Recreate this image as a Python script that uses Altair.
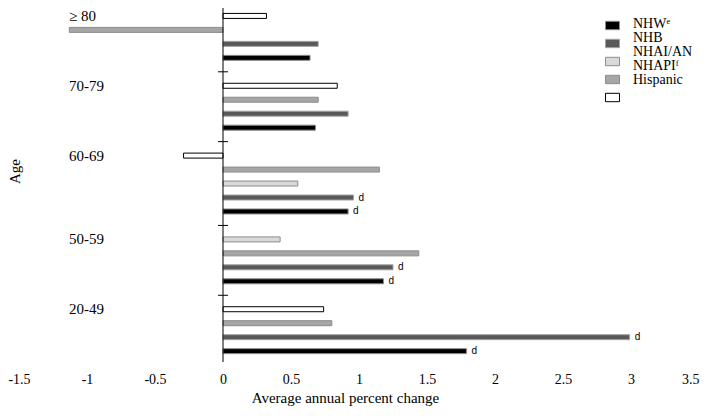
import altair as alt
import pandas as pd

# ---- data ----
ages = ["≥ 80", "70-79", "60-69", "50-59", "20-49"]
series = ["NHW", "NHB", "NHAI/AN", "NHAPI", "Hispanic"]
legend_labels = ["NHWᵉ", "NHB", "NHAI/AN", "NHAPIᶠ", "Hispanic"]
nhw = [0.64, 0.68, 0.92, 1.18, 1.79]
nhb = [0.70, 0.92, 0.96, 1.25, 2.99]
nhaian = [None, None, 0.55, 0.42, None]
nhapi = [-1.13, 0.70, 1.15, 1.44, 0.80]
hispanic = [0.32, 0.84, -0.29, None, 0.74]
nhw_sig = [False, False, True, True, True]
nhb_sig = [False, False, True, True, True]
no_sig = [False] * 5
x_ticks = [-1.5, -1, -0.5, 0, 0.5, 1, 1.5, 2, 2.5, 3, 3.5]

values = {"NHW": nhw, "NHB": nhb, "NHAI/AN": nhaian, "NHAPI": nhapi, "Hispanic": hispanic}
sigs = {"NHW": nhw_sig, "NHB": nhb_sig, "NHAI/AN": no_sig, "NHAPI": no_sig, "Hispanic": no_sig}
label_of = dict(zip(series, legend_labels))

# top-to-bottom order of bars inside each age group
default_order = ["Hispanic", "NHAPI", "NHAI/AN", "NHB", "NHW"]
group_order = {"50-59": ["NHAI/AN", "NHAPI", "NHB", "NHW"]}

fills = ["#000000", "#595959", "#d9d9d9", "#a6a6a6", "#ffffff"]
strokes = ["#8c8c8c", "#a3a3a3", "#8c8c8c", "#8c8c8c", "#000000"]

# ---- build row table (row index = slot in the category axis) ----
rows, labels, bounds = [], [], []
u = 0
for gi, age in enumerate(ages):
    order = group_order.get(age, default_order)
    present = [s for s in order if values[s][gi] is not None]
    for k, s in enumerate(present, 1):
        rows.append({"age": age, "series": s, "lab": label_of[s], "value": values[s][gi],
                     "pos": u + k, "sig": "d" if sigs[s][gi] else ""})
    labels.append({"age": age, "pos": u + 1})
    u += len(present) + 1
    bounds.append({"b": u})
bounds = bounds[:-1]

df = pd.DataFrame(rows)
lab_df = pd.DataFrame(labels)
b_df = pd.DataFrame(bounds)

W, H = 680, 354
xscale = alt.Scale(domain=[-1.5, 3.5], nice=False, zero=False)
yscale = alt.Scale(domain=[0.79, 25.42], reverse=True, nice=False, zero=False)

sym = "M-1,-0.6H1V0.6H-1Z"
sym_legend = alt.Legend(orient="none", legendX=586, legendY=10, title=None,
                        labelExpr="''", symbolType=sym, symbolSize=196,
                        rowPadding=4, padding=0, symbolStrokeWidth=1,
                        labelFontSize=1, labelOffset=0)

bars = alt.Chart(df).mark_bar(orient="horizontal", size=5, strokeWidth=1).encode(
    x=alt.X("value:Q", scale=xscale, stack=None,
            axis=alt.Axis(values=x_ticks, grid=False, domain=False, ticks=False,
                          labelPadding=10, labelFontSize=14, labelFont="Liberation Serif",
                          labelColor="black",
                          labelAlign={"condition": {"test": "datum.value >= 3.5", "value": "right"},
                                      "value": "center"},
                          labelExpr="datum.value < 0 ? '-' + format(-datum.value, '') : format(datum.value, '')",
                          title="Average annual percent change", titleFont="Liberation Serif",
                          titleFontSize=15, titleFontWeight="normal", titleColor="black",
                          titleX=326, titleY=35, titleBaseline="middle")),
    y=alt.Y("pos:Q", scale=yscale,
            axis=alt.Axis(labels=False, ticks=False, domain=False, grid=False,
                          title="Age", titleFont="Liberation Serif", titleFontSize=15,
                          titleFontWeight="normal", titleColor="black",
                          titleX=-5, titleY=163, titleBaseline="middle", titleAngle=-90)),
    fill=alt.Fill("series:N", scale=alt.Scale(domain=series, range=fills), legend=sym_legend),
    stroke=alt.Stroke("series:N", scale=alt.Scale(domain=series, range=strokes), legend=sym_legend),
    opacity=alt.Opacity("lab:N", scale=alt.Scale(domain=legend_labels, range=[1, 1, 1, 1, 1]),
                        legend=alt.Legend(orient="none", legendX=600, legendY=9, title=None,
                                          symbolSize=0, symbolOpacity=0, symbolStrokeWidth=0,
                                          labelFont="Liberation Serif", labelFontSize=14,
                                          labelColor="black", rowPadding=0, labelOffset=0,
                                          labelLimit=200, padding=0)),
)

sig_text = alt.Chart(df).transform_filter("datum.sig != ''").mark_text(
    align="left", baseline="middle", dx=5, font="Liberation Sans", fontSize=10, color="black"
).encode(x=alt.X("value:Q", scale=xscale), y=alt.Y("pos:Q", scale=yscale), text="sig:N")

age_text = alt.Chart(lab_df).mark_text(
    align="left", baseline="middle", font="Liberation Serif", fontSize=15, color="black"
).encode(x=alt.value(50), y=alt.Y("pos:Q", scale=yscale), text="age:N")

zero_line = alt.Chart(pd.DataFrame({"z": [0]})).mark_rule(color="black", strokeWidth=1).encode(
    x=alt.X("z:Q", scale=xscale), y=alt.value(0), y2=alt.value(H))

btick = alt.Chart(b_df).mark_rule(color="black", strokeWidth=1).encode(
    x=alt.datum(-0.037, scale=xscale), x2=alt.datum(0.037),
    y=alt.Y("b:Q", scale=yscale))

chart = alt.layer(bars, zero_line, btick, sig_text, age_text).properties(
    width=W, height=H,
    autosize=alt.AutoSizeParams(type="none"),
    padding={"left": 11, "top": 0, "right": 2, "bottom": 44},
).configure_view(stroke=None)

chart.save("out.html", embed_options={"renderer": "svg", "actions": False})
